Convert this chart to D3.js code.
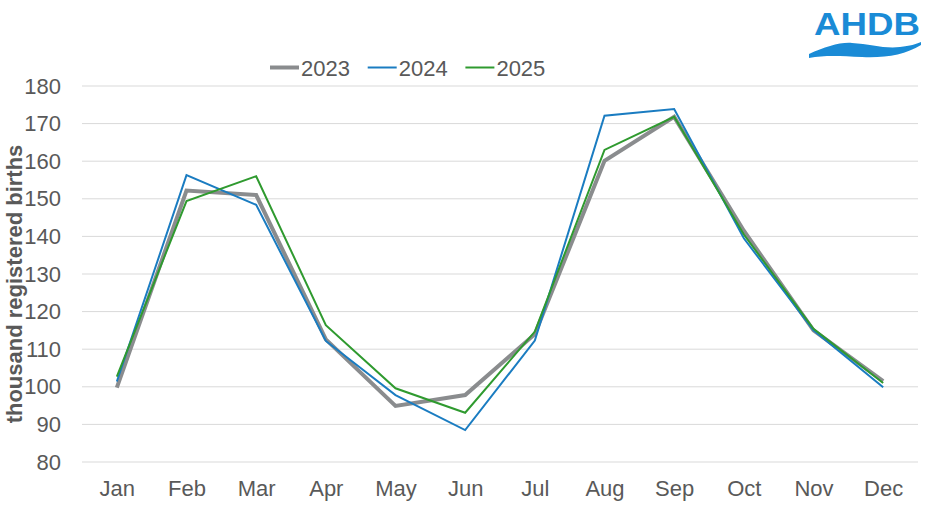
<!DOCTYPE html>
<html>
<head>
<meta charset="utf-8">
<script src="https://cdn.jsdelivr.net/npm/d3@7"></script>
<style>
  body { margin: 0; background: #fff; }
  svg { display: block; font-family: "Liberation Sans", Arial, sans-serif; }
</style>
</head>
<body>
<svg id="chart" width="928" height="523"></svg>
<script>
// data
var months = ["Jan", "Feb", "Mar", "Apr", "May", "Jun", "Jul", "Aug", "Sep", "Oct", "Nov", "Dec"];
var births2023 = [99.8, 152.2, 151.0, 112.6, 94.9, 97.8, 114.0, 160.1, 171.8, 141.5, 115.0, 101.5];
var births2024 = [101.4, 156.3, 148.4, 112.2, 97.8, 88.5, 112.3, 172.1, 173.9, 139.5, 115.0, 99.9];
var births2025 = [102.7, 149.4, 156.0, 116.4, 99.6, 93.1, 114.7, 163.0, 171.8, 140.5, 115.4, 101.0];
var yTicks = [80, 90, 100, 110, 120, 130, 140, 150, 160, 170, 180];

var series = [
  { name: "2023", values: births2023, color: "#8a8c8e", width: 4 },
  { name: "2024", values: births2024, color: "#1a7cc1", width: 2 },
  { name: "2025", values: births2025, color: "#2f9a2f", width: 2 }
];

var margin = { top: 86, right: 10, bottom: 61, left: 82 };
var width = 928 - margin.left - margin.right;
var height = 523 - margin.top - margin.bottom;
var fontSize = 22;

var svg = d3.select("#chart");
var g = svg.append("g").attr("transform", "translate(" + margin.left + "," + margin.top + ")");

var x = d3.scalePoint().domain(months).range([0, width]).padding(0.5);
var y = d3.scaleLinear().domain([80, 180]).range([height, 0]);

// gridlines
g.append("g")
  .selectAll("line")
  .data(yTicks)
  .enter().append("line")
  .attr("x1", 0).attr("x2", width)
  .attr("y1", function(d) { return y(d); })
  .attr("y2", function(d) { return y(d); })
  .attr("stroke", "#d9d9d9")
  .attr("stroke-width", 1);

var yAxis = d3.axisLeft(y).tickValues(yTicks).tickSize(0).tickPadding(21);
g.append("g").call(yAxis)
  .call(function(s) { s.select(".domain").remove(); })
  .selectAll("text")
  .attr("font-size", fontSize)
  .attr("fill", "#595959")
  .attr("font-family", "Liberation Sans, Arial, sans-serif");

var xAxis = d3.axisBottom(x).tickSize(0).tickPadding(18);
g.append("g").attr("transform", "translate(0," + height + ")").call(xAxis)
  .call(function(s) { s.select(".domain").remove(); })
  .selectAll("text")
  .attr("font-size", fontSize)
  .attr("fill", "#595959")
  .attr("font-family", "Liberation Sans, Arial, sans-serif");

// y title
svg.append("text")
  .attr("transform", "translate(22,284) rotate(-90)")
  .attr("text-anchor", "middle")
  .attr("font-size", fontSize)
  .attr("font-weight", "bold")
  .attr("fill", "#595959")
  .text("thousand registered births");

// lines
var line = d3.line()
  .x(function(d, i) { return x(months[i]); })
  .y(function(d) { return y(d); });

g.selectAll(".series")
  .data(series)
  .enter().append("path")
  .attr("class", "series")
  .attr("fill", "none")
  .attr("stroke", function(d) { return d.color; })
  .attr("stroke-width", function(d) { return d.width; })
  .attr("stroke-linejoin", "miter")
  .attr("d", function(d) { return line(d.values); });

// legend
var legend = svg.append("g").attr("transform", "translate(270,67.5)");
var item = legend.selectAll("g")
  .data(series)
  .enter().append("g")
  .attr("transform", function(d, i) { return "translate(" + (i * 97.7) + ",0)"; });
item.append("line")
  .attr("x1", 0).attr("x2", 29)
  .attr("stroke", function(d) { return d.color; })
  .attr("stroke-width", function(d) { return d.width; });
item.append("text")
  .attr("x", 31).attr("y", 8)
  .attr("font-size", fontSize)
  .attr("fill", "#595959")
  .text(function(d) { return d.name; });

// AHDB logo
var logo = svg.append("g");
logo.append("text")
  .attr("x", 814).attr("y", 35)
  .attr("font-size", 32)
  .attr("font-weight", "bold")
  .attr("fill", "#1a8bd6")
  .attr("textLength", 106)
  .attr("lengthAdjust", "spacingAndGlyphs")
  .text("AHDB");
logo.append("path")
  .attr("d", "M809,54 C825,47 840,42 852,43 C870,44 885,49 900,47 C910,46 916,44 921,42 L921,45 C905,55 885,58 862,57 C840,56 825,55 809,58 Z")
  .attr("fill", "#1a8bd6");
</script>
</body>
</html>
